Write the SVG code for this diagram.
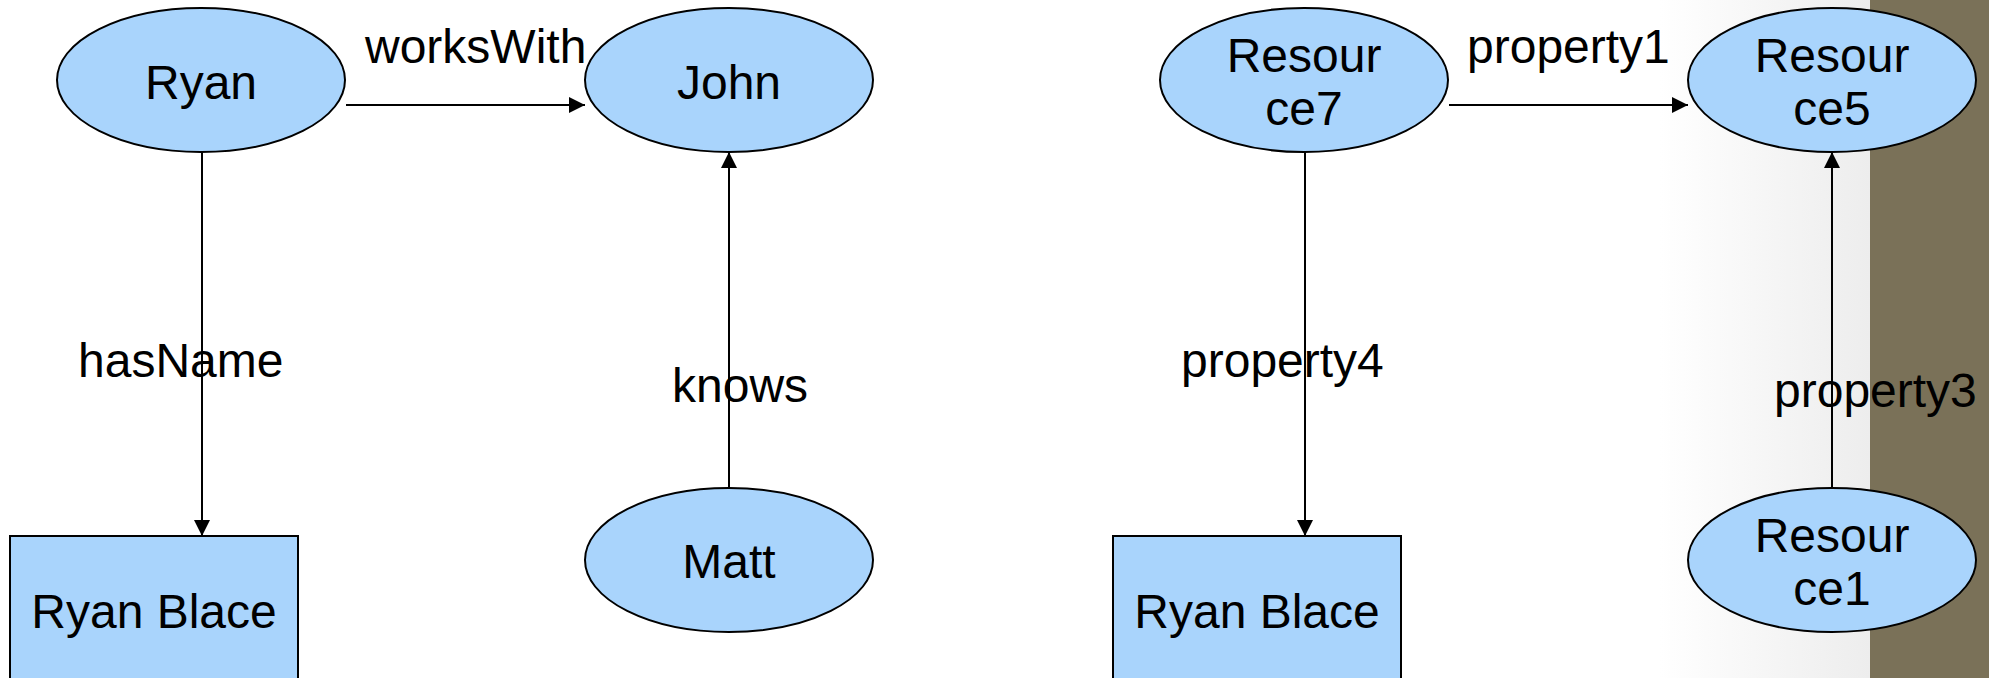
<svg xmlns="http://www.w3.org/2000/svg" width="1989" height="678" viewBox="0 0 1989 678">
<style>
.node{fill:#A9D4FC;stroke:#000;stroke-width:2}
.t{font-family:"Liberation Sans",Arial,sans-serif;font-size:48px;fill:#000}
.c{text-anchor:middle}
.edge{stroke:#000;stroke-width:2;fill:none;marker-end:url(#arr)}
</style>
<defs>
<marker id="arr" markerUnits="userSpaceOnUse" markerWidth="16" markerHeight="16" viewBox="0 0 16 16" refX="16" refY="8" orient="auto">
<path d="M0,0 L16,8 L0,16 Z" fill="#000"/>
</marker>
<linearGradient id="shade" x1="0" y1="0" x2="1" y2="0">
<stop offset="0" stop-color="#FFFFFF"/>
<stop offset="1" stop-color="#EDEDED"/>
</linearGradient>
</defs>
<rect x="0" y="0" width="1989" height="678" fill="#FFFFFF"/>
<rect x="1660" y="0" width="210" height="678" fill="url(#shade)"/>
<rect x="1870" y="0" width="119" height="678" fill="#7A7158"/>
<g id="connectors">
<line class="edge" x1="346" y1="105" x2="585" y2="105"/>
<line class="edge" x1="202" y1="152" x2="202" y2="536"/>
<line class="edge" x1="729" y1="488" x2="729" y2="152"/>
<line class="edge" x1="1449" y1="105" x2="1688" y2="105"/>
<line class="edge" x1="1305" y1="152" x2="1305" y2="536"/>
<line class="edge" x1="1832" y1="489" x2="1832" y2="152"/>
<text class="t" x="365" y="63">worksWith</text>
<text class="t" x="78" y="377">hasName</text>
<text class="t" x="672" y="402">knows</text>
<text class="t" x="1467" y="63">property1</text>
<text class="t" x="1181" y="377">property4</text>
<text class="t" x="1774" y="407">property3</text>
</g>
<g id="ryan"><ellipse class="node" cx="201" cy="80" rx="144" ry="72"/><text class="t c" x="201" y="99">Ryan</text></g>
<g id="john"><ellipse class="node" cx="729" cy="80" rx="144" ry="72"/><text class="t c" x="729" y="99">John</text></g>
<g id="matt"><ellipse class="node" cx="729" cy="560" rx="144" ry="72"/><text class="t c" x="729" y="578">Matt</text></g>
<g id="ryanblace1"><rect class="node" x="10" y="536" width="288" height="170"/><text class="t c" x="154" y="628">Ryan Blace</text></g>
<g id="resource7"><ellipse class="node" cx="1304" cy="80" rx="144" ry="72"/><text class="t c" x="1304" y="72">Resour</text><text class="t c" x="1304" y="125">ce7</text></g>
<g id="resource5"><ellipse class="node" cx="1832" cy="80" rx="144" ry="72"/><text class="t c" x="1832" y="72">Resour</text><text class="t c" x="1832" y="125">ce5</text></g>
<g id="resource1"><ellipse class="node" cx="1832" cy="560" rx="144" ry="72"/><text class="t c" x="1832" y="552">Resour</text><text class="t c" x="1832" y="605">ce1</text></g>
<g id="ryanblace2"><rect class="node" x="1113" y="536" width="288" height="170"/><text class="t c" x="1257" y="628">Ryan Blace</text></g>
</svg>
